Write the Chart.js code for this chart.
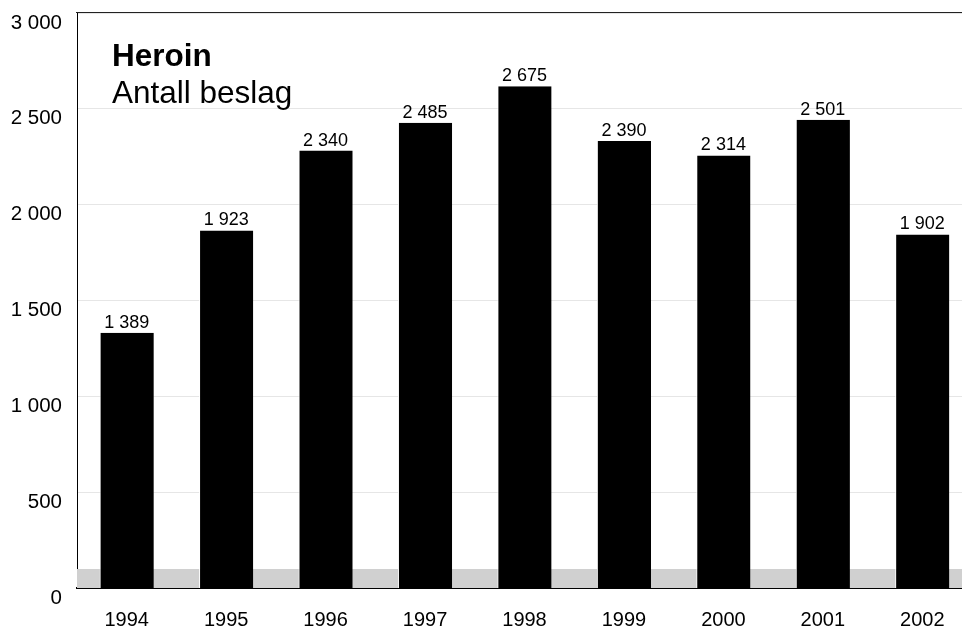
<!DOCTYPE html>
<html>
<head>
<meta charset="utf-8">
<script src="https://cdn.jsdelivr.net/npm/chart.js@4/dist/chart.umd.min.js"></script>
<style>
html,body{margin:0;padding:0;background:#fff;overflow:hidden;width:962px;height:633px;}
#wrap{position:absolute;left:0;top:0;width:972px;height:633px;}
</style>
</head>
<body>
<div id="wrap"><canvas id="c"></canvas></div>
<script>
const years = ['1994','1995','1996','1997','1998','1999','2000','2001','2002'];
const seizures = [1389, 1923, 2340, 2485, 2675, 2390, 2314, 2501, 1902];
const yTicks = [0, 500, 1000, 1500, 2000, 2500, 3000];
const titleBold = 'Heroin';
const titleSub = 'Antall beslag';

const FONT = '"Liberation Sans", Arial, sans-serif';
const fmt = v => String(v).replace(/\B(?=(\d{3})+(?!\d))/g, ' ');
const DEPTH = 11;

const decor = {
  id: 'decor',
  beforeDatasetsDraw(chart) {
    const {ctx, chartArea: a} = chart;
    ctx.save();
    ctx.fillStyle = '#d0d0d0';
    ctx.fillRect(a.left, a.bottom - 19, a.right - a.left, 19);
    ctx.strokeStyle = '#222';
    ctx.lineWidth = 1;
    ctx.beginPath();
    ctx.moveTo(a.left - 1, Math.round(a.top) - 0.5);
    ctx.lineTo(a.right, Math.round(a.top) - 0.5);
    ctx.stroke();
    ctx.restore();
    ctx.save();
    ctx.beginPath();
    ctx.rect(a.left, a.top, a.right - a.left, a.bottom - a.top);
    ctx.clip();
    ctx.translate(0, DEPTH);
  },
  afterDatasetsDraw(chart) {
    const {ctx} = chart;
    ctx.restore();
    ctx.save();
    ctx.fillStyle = '#000';
    ctx.font = '18px ' + FONT;
    ctx.textAlign = 'center';
    ctx.textBaseline = 'alphabetic';
    const meta = chart.getDatasetMeta(0);
    meta.data.forEach((bar, i) => {
      ctx.fillText(fmt(seizures[i]), bar.x, bar.y + DEPTH - 5);
    });
    ctx.textAlign = 'left';
    ctx.font = 'bold 31.5px ' + FONT;
    ctx.fillText(titleBold, 112, 66);
    ctx.font = '31.5px ' + FONT;
    ctx.fillText(titleSub, 112, 103);
    ctx.restore();
  }
};

new Chart(document.getElementById('c'), {
  type: 'bar',
  data: {
    labels: years,
    datasets: [{
      data: seizures,
      backgroundColor: '#000',
      borderColor: '#fff',
      borderWidth: {left: 1, right: 0, top: 0, bottom: 0},
      borderSkipped: false,
      categoryPercentage: 1,
      barPercentage: 0.545
    }]
  },
  options: {
    responsive: true,
    maintainAspectRatio: false,
    animation: false,
    layout: {padding: {top: 13, left: 0, right: 0, bottom: 0}},
    plugins: {legend: {display: false}, tooltip: {enabled: false}, title: {display: false}},
    scales: {
      x: {
        grid: {display: false, drawTicks: false},
        border: {display: true, color: '#000', width: 2},
        ticks: {color: '#000', font: {family: FONT, size: 20}, padding: 20, maxRotation: 0},
        afterFit(s) { s.height = 45; s.paddingLeft = 0; s.paddingRight = 0; }
      },
      y: {
        min: 0, max: 3000,
        afterBuildTicks(s) { s.ticks = yTicks.map(v => ({value: v})); },
        grid: {color: '#e6e6e6', lineWidth: 1, drawTicks: false},
        border: {display: true, color: '#000', width: 1},
        ticks: {
          color: '#000', font: {family: FONT, size: 20.5},
          padding: 15, labelOffset: 10,
          callback: v => fmt(v)
        },
        afterFit(s) { s.width = 77; s.paddingTop = 0; s.paddingBottom = 0; }
      }
    }
  },
  plugins: [decor]
});
</script>
</body>
</html>
